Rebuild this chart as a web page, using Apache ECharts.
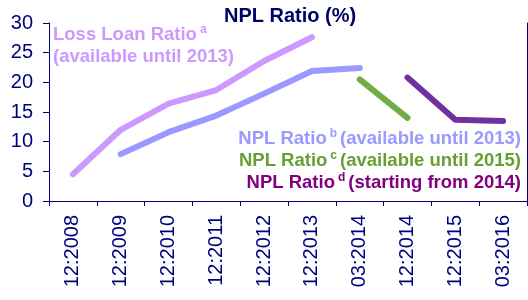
<!DOCTYPE html>
<html>
<head>
<meta charset="utf-8">
<script src="https://cdn.jsdelivr.net/npm/echarts@6/dist/echarts.min.js"></script>
<style>
  html, body { margin: 0; padding: 0; background: #fff; }
  #chart { width: 528px; height: 300px; }
</style>
</head>
<body>
<div id="chart"></div>
<script>
// categories (quarter:year)
var categories = ['12:2008', '12:2009', '12:2010', '12:2011', '12:2012', '12:2013', '03:2014', '12:2014', '12:2015', '03:2016']

// series values, null where not available
var lossLoanRatio = [4.5, 12.0, 16.4, 18.7, 23.6, 27.6, null, null, null, null]
var nplRatioB = [null, 7.9, 11.6, 14.4, 18.1, 21.9, 22.4, null, null, null]
var nplRatioC = [null, null, null, null, null, null, 20.5, 14.0, null, null]
var nplRatioD = [null, null, null, null, null, null, null, 20.8, 13.7, 13.5]

var navy = '#000080'
var font = 'Arial, "Liberation Sans", sans-serif'

function lineSeries(name, data, color) {
  return {
    name: name,
    type: 'line',
    data: data,
    showSymbol: false,
    symbol: 'none',
    connectNulls: false,
    lineStyle: { color: color, width: 6, cap: 'round', join: 'round' },
    itemStyle: { color: color },
    silent: true,
    animation: false
  }
}

// rich text with a raised footnote letter
function supRich(color) {
  return {
    t: { fontSize: 18.5, fontWeight: 'bold', fontFamily: font, fill: color, lineHeight: 22 },
    s: { fontSize: 12, fontWeight: 'bold', fontFamily: font, fill: color, verticalAlign: 'top', lineHeight: 22, padding: [0, 3, 0, 3] }
  }
}

var chart = echarts.init(document.getElementById('chart'))
chart.setOption({
  backgroundColor: '#fff',
  animation: false,
  title: {
    text: 'NPL Ratio (%)',
    left: 219,
    top: 1,
    textStyle: { fontSize: 20, fontWeight: 'bold', color: '#000066', fontFamily: font }
  },
  grid: { left: 49, right: 1, top: 23, bottom: 99, containLabel: false },
  xAxis: {
    type: 'category',
    data: categories,
    boundaryGap: true,
    axisLine: { show: true, lineStyle: { color: navy, width: 1 } },
    axisTick: { show: true, inside: false, length: 5, lineStyle: { color: navy } },
    axisLabel: { rotate: 90, fontSize: 20, color: navy, fontFamily: font, margin: 14, interval: 0 },
    splitLine: { show: false }
  },
  yAxis: [
    {
      type: 'value',
      min: 0,
      max: 30,
      interval: 5,
      axisLine: { show: true, lineStyle: { color: navy, width: 1 } },
      axisTick: { show: true, length: 6, lineStyle: { color: navy } },
      axisLabel: { fontSize: 20, color: navy, fontFamily: font, margin: 16 },
      splitLine: { show: false }
    },
    {
      type: 'value',
      position: 'right',
      min: 0,
      max: 30,
      interval: 5,
      axisLine: { show: true, lineStyle: { color: navy, width: 1 } },
      axisTick: { show: false },
      axisLabel: { show: false },
      splitLine: { show: false }
    }
  ],
  series: [
    lineSeries('Loss Loan Ratio', lossLoanRatio, '#CC99FF'),
    lineSeries('NPL Ratio b', nplRatioB, '#9999FF'),
    lineSeries('NPL Ratio c', nplRatioC, '#70AD47'),
    lineSeries('NPL Ratio d', nplRatioD, '#7030A0')
  ],
  graphic: [
    {
      type: 'text', left: 53, top: 24, silent: true,
      style: {
        text: '{t|Loss Loan Ratio}{s|a}\n{t|(available until 2013)}',
        rich: supRich('#CC99FF')
      }
    },
    {
      type: 'text', right: 7, top: 128, silent: true,
      style: {
        text: '{t|NPL Ratio}{s|b}{t|(available until 2013)}',
        rich: supRich('#9999FF')
      }
    },
    {
      type: 'text', right: 7, top: 150, silent: true,
      style: {
        text: '{t|NPL Ratio}{s|c}{t|(available until 2015)}',
        rich: supRich('#66A033')
      }
    },
    {
      type: 'text', right: 7, top: 172, silent: true,
      style: {
        text: '{t|NPL Ratio}{s|d}{t|(starting from 2014)}',
        rich: supRich('#800080')
      }
    }
  ]
})
</script>
</body>
</html>
